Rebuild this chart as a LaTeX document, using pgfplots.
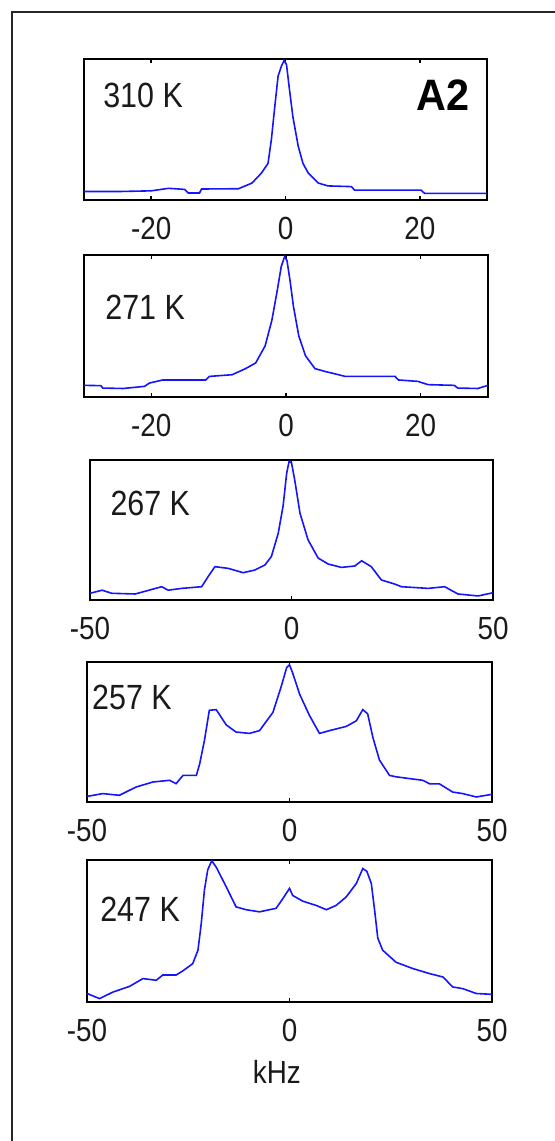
\documentclass[border=0pt]{standalone}
\usepackage{pgfplots}
\pgfplotsset{compat=1.18}
\usepackage{fontspec}
\setmainfont{Liberation Sans}
\definecolor{txt}{HTML}{1A1A1A}
\definecolor{mblue}{RGB}{20,20,255}
\pgfplotsset{
  panel/.style={
    scale only axis, anchor=north west, clip=false,
    ymin=0, ymax=1, ytick=\empty,
    axis line style={line width=1pt, black},
    tick align=inside, xtick pos=both, xticklabel pos=lower,
    major tick length=2pt,
    every tick/.style={black, line width=0.7pt},
    /pgf/number format/assume math mode=true,
    xticklabel style={font=\fontsize{16}{18}\selectfont, text=txt, xscale=0.87, anchor=north, inner sep=0pt, yshift=-8.5pt},
  },
  trace/.style={mblue, line width=0.8pt, mark=none},
}
\tikzset{tlabel/.style={font=\fontsize{17.5}{20}\selectfont, text=txt, xscale=0.87, anchor=west, inner sep=0pt}}
\begin{document}
\begin{tikzpicture}
\useasboundingbox (0,0) rectangle (277.5pt,-570.5pt);
\draw[line width=1pt, black!85] (5.75pt,-570.5pt) -- (5.75pt,-5.75pt) -- (277.5pt,-5.75pt);

% Panel 1: 310 K
\begin{axis}[panel, at={(42pt,-29.5pt)}, width=201.5pt, height=70.5pt,
  xmin=-30, xmax=30, xtick={-20,0,20}]
\addplot[trace] coordinates {
(-30,0.06) (-25,0.06) (-20,0.065) (-17.4,0.083) (-15,0.075) (-14.5,0.05) (-12.8,0.05) (-12.5,0.078) (-7,0.08) (-5,0.12) (-3.6,0.19) (-2.6,0.26) (-2.1,0.43) (-1.6,0.66) (-1.1,0.88) (-0.6,0.95) (-0.2,0.99) (0.15,0.96) (0.6,0.78) (1.1,0.59) (1.9,0.38) (2.6,0.26) (3.4,0.19) (4.9,0.12) (6.3,0.10) (9.8,0.095) (10.3,0.07) (20.2,0.07) (20.7,0.047) (30,0.047)
};
\node[tlabel] at (rel axis cs:0.047,0.745) {310 K};
\node[font=\fontsize{22}{24}\selectfont\bfseries, text=black, xscale=0.94, anchor=east, inner sep=0pt] at (rel axis cs:0.958,0.745) {A2};
\end{axis}

% Panel 2: 271 K
\begin{axis}[panel, at={(42pt,-127.5pt)}, width=202pt, height=71pt,
  xmin=-30, xmax=30, xtick={-20,0,20}]
\addplot[trace] coordinates {
(-30,0.082) (-27.5,0.08) (-27.2,0.063) (-24.2,0.06) (-21,0.075) (-20.3,0.098) (-18.3,0.12) (-11.9,0.12) (-11.4,0.145) (-8,0.157) (-6,0.20) (-4.5,0.24) (-3.1,0.36) (-2.1,0.54) (-1.3,0.75) (-0.7,0.92) (-0.2,0.99) (0.15,0.96) (0.6,0.82) (1.1,0.64) (1.9,0.43) (2.9,0.29) (4.3,0.20) (5.8,0.18) (7.8,0.157) (8.8,0.145) (16.2,0.145) (16.7,0.12) (19.6,0.11) (21.1,0.087) (25,0.082) (25.5,0.063) (28.5,0.06) (30,0.082)
};
\node[tlabel] at (rel axis cs:0.052,0.634) {271 K};
\end{axis}

% Panel 3: 267 K
\begin{axis}[panel, at={(45pt,-230pt)}, width=201.5pt, height=70pt,
  xmin=-50, xmax=50, xtick={-50,0,50}]
\addplot[trace] coordinates {
(-50,0.048) (-47,0.07) (-44.6,0.048) (-38.8,0.043) (-32.2,0.095) (-30.6,0.07) (-27.3,0.083) (-22.3,0.095) (-20.7,0.167) (-19,0.238) (-15.7,0.226) (-12,0.195) (-9.1,0.214) (-6.6,0.25) (-5,0.31) (-3.3,0.476) (-2.1,0.67) (-1.2,0.905) (-0.6,0.99) (0,0.98) (0.8,0.857) (2.1,0.62) (4.1,0.43) (6.6,0.30) (9.1,0.257) (12.4,0.233) (15.7,0.243) (17.4,0.28) (19.8,0.238) (22.3,0.143) (25.6,0.114) (27.3,0.095) (33.9,0.083) (38,0.095) (41.3,0.043) (46.3,0.029) (50,0.052)
};
\node[tlabel] at (rel axis cs:0.05,0.69) {267 K};
\end{axis}

% Panel 4: 257 K
\begin{axis}[panel, at={(43.5pt,-331pt)}, width=202.5pt, height=70pt,
  xmin=-50, xmax=50, xtick={-50,0,50}]
\addplot[trace] coordinates {
(-50,0.04) (-46.1,0.06) (-42,0.048) (-37.9,0.107) (-33.7,0.143) (-29.6,0.155) (-28,0.131) (-26.3,0.19) (-23,0.19) (-22.2,0.27) (-21,0.44) (-19.8,0.655) (-18.1,0.66) (-15.6,0.55) (-13.2,0.50) (-9.9,0.49) (-7.4,0.51) (-4.1,0.64) (-2.1,0.82) (-0.7,0.96) (0,0.98) (0.8,0.92) (2.5,0.77) (4.9,0.62) (7.4,0.49) (9.9,0.51) (14,0.54) (16.5,0.58) (18.1,0.66) (19.3,0.63) (20.6,0.46) (22.2,0.30) (24.7,0.19) (26.3,0.18) (32.9,0.155) (34.6,0.13) (37,0.13) (40.3,0.071) (42.8,0.06) (46.1,0.036) (50,0.055)
};
\node[tlabel] at (rel axis cs:0.012,0.75) {257 K};
\end{axis}

% Panel 5: 247 K
\begin{axis}[panel, at={(43.5pt,-430pt)}, width=202.5pt, height=71pt,
  xmin=-50, xmax=50, xtick={-50,0,50},
  xlabel={kHz},
  xlabel style={at={(axis description cs:0.469,-0.493)}, anchor=center, font=\fontsize{16}{18}\selectfont, text=txt, xscale=0.87, inner sep=0pt}]
\addplot[trace] coordinates {
(-50,0.06) (-46.9,0.024) (-43.6,0.07) (-39.5,0.11) (-36.2,0.165) (-32.9,0.153) (-31.3,0.19) (-28,0.19) (-26.3,0.22) (-23.9,0.27) (-22.6,0.365) (-21.8,0.55) (-21,0.79) (-20.2,0.93) (-19.2,0.995) (-18.1,0.95) (-15.6,0.81) (-13.2,0.67) (-10.7,0.65) (-7.4,0.635) (-3.3,0.66) (-1.6,0.73) (0,0.80) (0.8,0.75) (3.3,0.71) (6.6,0.68) (9.1,0.65) (11.5,0.68) (14,0.74) (16.5,0.835) (18.1,0.94) (19.1,0.92) (20.2,0.835) (21,0.65) (21.8,0.45) (23,0.365) (26.3,0.28) (30.5,0.235) (34.6,0.2) (37.9,0.176) (40.3,0.106) (42.8,0.094) (46.1,0.06) (50,0.054)
};
\node[tlabel] at (rel axis cs:0.032,0.65) {247 K};
\end{axis}
\end{tikzpicture}
\end{document}
